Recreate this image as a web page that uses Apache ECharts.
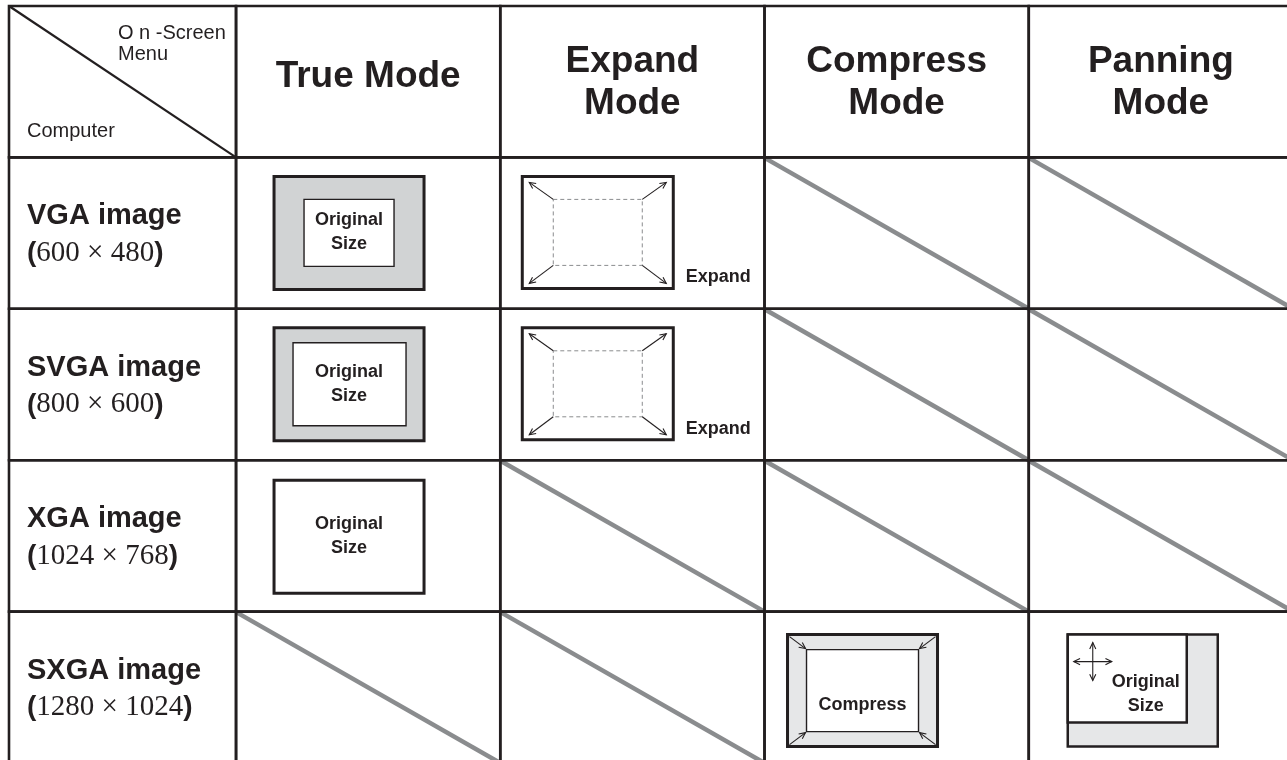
<!DOCTYPE html>
<html>
<head>
<meta charset="utf-8">
<style>
  html, body { margin: 0; padding: 0; background: #fff; }
  #chart { width: 1287px; height: 760px; }
</style>
<script src="https://cdn.jsdelivr.net/npm/echarts@6/dist/echarts.min.js"></script>
</head>
<body>
<div id="chart"></div>
<script>
// ---- data ----
const modes = ['True Mode', 'Expand\nMode', 'Compress\nMode', 'Panning\nMode'];
const computers = ['VGA image', 'SVGA image', 'XGA image', 'SXGA image'];
const resolutions = ['600 × 480', '800 × 600', '1024 × 768', '1280 × 1024'];
const cornerTop = 'O n -Screen\nMenu';
const cornerBottom = 'Computer';
// what each mode shows for each computer ('-' = not available)
const support = [
  ['original-small', 'expand', '-', '-'],
  ['original-medium', 'expand', '-', '-'],
  ['original-full', '-', '-', '-'],
  ['-', '-', 'compress', 'panning']
];
const iconTexts = { original: 'Original\nSize', expand: 'Expand', compress: 'Compress' };

// ---- layout helpers ----
const FIRST_COL = -227 / 264.2;   // row-header column is narrower
const INK = '#231f20';
const SANS = '"Liberation Sans", Arial, sans-serif';
const SERIF = '"Liberation Serif", "Times New Roman", serif';

const cells = [];
for (let r = 0; r <= computers.length; r++) {
  for (let c = -1; c < modes.length; c++) {
    let kind;
    if (r === 0 && c === -1) kind = 'corner';
    else if (r === 0) kind = 'header';
    else if (c === -1) kind = 'rowlabel';
    else kind = support[r - 1][c] === '-' ? 'none' : support[r - 1][c];
    cells.push({ kind, r, c, value: [c < 0 ? FIRST_COL : c, r, c + 1, r + 1] });
  }
}

function arrow(x1, y1, x2, y2, both) {
  const out = [];
  const st = { stroke: INK, lineWidth: 1.1, fill: null };
  out.push({ type: 'line', shape: { x1, y1, x2, y2 }, style: st });
  const head = (hx, hy, a) => {
    const L = 7, s = 0.45;
    return {
      type: 'polyline',
      shape: { points: [[hx - L * Math.cos(a - s), hy - L * Math.sin(a - s)], [hx, hy], [hx - L * Math.cos(a + s), hy - L * Math.sin(a + s)]] },
      style: st
    };
  };
  const a = Math.atan2(y2 - y1, x2 - x1);
  out.push(head(x2, y2, a));
  if (both) out.push(head(x1, y1, a + Math.PI));
  return out;
}

function txt(text, x, y, font, extra) {
  return { type: 'text', style: Object.assign({ text, x, y, fill: INK, font, align: 'center', verticalAlign: 'middle' }, extra || {}) };
}
function rect(x, y, w, h, fill, lw, extra) {
  return { type: 'rect', shape: { x, y, width: w, height: h }, style: Object.assign({ fill, stroke: INK, lineWidth: lw }, extra || {}) };
}

function renderContent(params, api) {
  const cell = cells[params.dataIndex];
  const p0 = api.coord([api.value(0), api.value(1)]);
  const p1 = api.coord([api.value(2), api.value(3)]);
  const X = p0[0], Y = p0[1], W = p1[0] - p0[0], H = p1[1] - p0[1];
  let ch = [];
  const smallBold = 'bold 18px ' + SANS;
  switch (cell.kind) {
    case 'corner':
      ch.push({ type: 'line', shape: { x1: X, y1: Y, x2: X + W, y2: Y + H }, style: { stroke: INK, lineWidth: 2.2 } });
      ch.push(txt(cornerTop, X + 109, Y + 17, '20px ' + SANS, { align: 'left', verticalAlign: 'top', lineHeight: 21 }));
      ch.push(txt(cornerBottom, X + 18, Y + 125, '20px ' + SANS, { align: 'left' }));
      break;
    case 'header': {
      const twoLine = modes[cell.c].indexOf('\n') >= 0;
      ch.push(txt(modes[cell.c], X + W / 2, Y + H / 2 + (twoLine ? 1 : -5), 'bold 37px ' + SANS, { lineHeight: 42 }));
      break;
    }
    case 'rowlabel':
      ch.push(txt(computers[cell.r - 1], X + 18, Y + 59, 'bold 29px ' + SANS, { align: 'left' }));
      ch.push({
        type: 'text',
        style: {
          text: '{p|(}{n|' + resolutions[cell.r - 1] + '}{p|)}',
          x: X + 18, y: Y + 96, align: 'left', verticalAlign: 'middle', fill: INK,
          rich: {
            p: { font: 'bold 28px ' + SANS, fill: INK },
            n: { font: '29px ' + SERIF, fill: INK }
          }
        }
      });
      break;
    case 'none':
      ch.push({ type: 'line', shape: { x1: X + 1, y1: Y + 1, x2: X + W, y2: Y + H }, style: { stroke: '#8a8c8e', lineWidth: 4.5 } });
      break;
    case 'original-small':
      ch.push(rect(X + 38, Y + 19, 150, 113, '#d1d3d4', 3));
      ch.push(rect(X + 68, Y + 42, 90, 67, '#fff', 1.4));
      ch.push(txt(iconTexts.original, X + 113, Y + 75, smallBold, { lineHeight: 24 }));
      break;
    case 'original-medium':
      ch.push(rect(X + 38, Y + 19, 150, 113, '#d1d3d4', 3));
      ch.push(rect(X + 57, Y + 34, 113, 83, '#fff', 1.4));
      ch.push(txt(iconTexts.original, X + 113, Y + 75, smallBold, { lineHeight: 24 }));
      break;
    case 'original-full':
      ch.push(rect(X + 38, Y + 20, 150, 113, '#fff', 3));
      ch.push(txt(iconTexts.original, X + 113, Y + 76, smallBold, { lineHeight: 24 }));
      break;
    case 'expand':
      ch.push(rect(X + 22, Y + 19, 151, 112, '#fff', 3));
      ch.push(rect(X + 53, Y + 42, 89, 66, null, 1, { stroke: '#8a8c8e', lineDash: [4, 3] }));
      ch = ch.concat(arrow(X + 53, Y + 42, X + 29, Y + 25));
      ch = ch.concat(arrow(X + 142, Y + 42, X + 166, Y + 25));
      ch = ch.concat(arrow(X + 53, Y + 108, X + 29, Y + 126));
      ch = ch.concat(arrow(X + 142, Y + 108, X + 166, Y + 126));
      ch.push(txt(iconTexts.expand, X + 218, Y + 120, smallBold));
      break;
    case 'compress':
      ch.push(rect(X + 23, Y + 23, 150, 112, '#e6e7e8', 3));
      ch.push(rect(X + 42, Y + 38, 112, 82, '#fff', 1.4));
      ch = ch.concat(arrow(X + 25, Y + 25, X + 41, Y + 37));
      ch = ch.concat(arrow(X + 171, Y + 25, X + 155, Y + 37));
      ch = ch.concat(arrow(X + 25, Y + 133, X + 41, Y + 121));
      ch = ch.concat(arrow(X + 171, Y + 133, X + 155, Y + 121));
      ch.push(txt(iconTexts.compress, X + 98, Y + 93, smallBold));
      break;
    case 'panning':
      ch.push(rect(X + 39, Y + 23, 150, 112, '#e6e7e8', 2.5));
      ch.push(rect(X + 39, Y + 23, 119, 88, '#fff', 2.5));
      ch = ch.concat(arrow(X + 45, Y + 50, X + 83, Y + 50, true));
      ch = ch.concat(arrow(X + 64, Y + 31, X + 64, Y + 69, true));
      ch.push(txt(iconTexts.original, X + 117, Y + 82, smallBold, { lineHeight: 24 }));
      break;
  }
  return { type: 'group', children: ch };
}

function renderBorder(params, api) {
  const p0 = api.coord([api.value(0), api.value(1)]);
  const p1 = api.coord([api.value(2), api.value(3)]);
  return {
    type: 'rect',
    shape: { x: p0[0], y: p0[1], width: p1[0] - p0[0], height: p1[1] - p0[1] },
    style: { fill: null, stroke: INK, lineWidth: 2.6 }
  };
}

const chart = echarts.init(document.getElementById('chart'), null, { renderer: 'canvas' });
chart.setOption({
  animation: false,
  backgroundColor: '#ffffff',
  grid: { left: 9, top: 6, width: 1284, height: 757, outerBoundsMode: 'none', containLabel: false },
  xAxis: { type: 'value', min: FIRST_COL, max: modes.length, show: false },
  yAxis: { type: 'value', min: 0, max: computers.length + 1, inverse: true, show: false },
  series: [
    {
      type: 'custom', renderItem: renderContent, clip: false, z: 2,
      encode: { x: [0, 2], y: [1, 3] },
      data: cells.map(c => c.value)
    },
    {
      type: 'custom', renderItem: renderBorder, clip: false, z: 3,
      encode: { x: [0, 2], y: [1, 3] },
      data: cells.map(c => c.value)
    }
  ]
});
</script>
</body>
</html>
